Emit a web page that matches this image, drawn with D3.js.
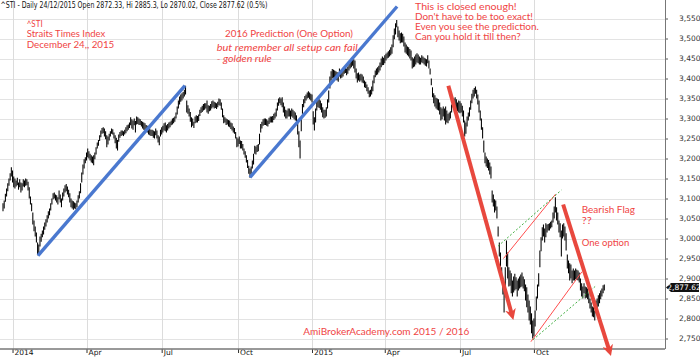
<!DOCTYPE html>
<html><head><meta charset="utf-8">
<script src="https://cdn.jsdelivr.net/npm/d3@7"></script>
<style>
html,body{margin:0;padding:0;background:#fff;}
svg{display:block;}
</style></head>
<body>
<svg id="chart" width="700" height="358"></svg>
<script>
// ---- data (STI daily bars) ----
const high = [
3088,3095,3112,3125,3138, 3150,3163,3178,3170,3155, 3150,3145,3152,3140,3148, 3140,3138,3148,3145,3150,
3148,3142,3128,3105,3088, 3065,3045,3030,3015,2990, 2985,3005,3012,3020,3030, 3040,3048,3058,3068,3075,
3088,3100,3113,3115,3110, 3108,3103,3120,3110,3100, 3115,3125,3133,3136,3130, 3122,3113,3100,3095,3093,
3090,3088,3095,3108,3118, 3138,3165,3185,3198,3203, 3215,3225,3218,3212,3208, 3205,3208,3215,3228,3240,
3246,3258,3270,3276,3278, 3275,3268,3258,3255,3262, 3268,3275,3273,3265,3258, 3252,3246,3260,3266,3270,
3270,3268,3272,3278,3283, 3285,3290,3303,3298,3295, 3300,3294,3305,3303,3300, 3298,3294,3292,3290,3288,
3284,3282,3278,3275,3272, 3272,3270,3268,3275,3270, 3258,3255,3272,3278,3282, 3288,3290,3283,3286,3290,
3292,3295,3300,3302,3305, 3315,3330,3345,3355,3360, 3363,3366,3372,3382,3345, 3333,3325,3316,3303,3300,
3292,3305,3308,3306,3310, 3322,3328,3332,3336,3338, 3338,3345,3333,3332,3336, 3343,3345,3342,3340,3338,
3342,3350,3348,3340,3325, 3308,3303,3300,3298,3296, 3295,3290,3288,3280,3276, 3266,3253,3250,3255,3245,
3244,3236,3225,3218,3208, 3196,3182,3175,3180,3195, 3212,3232,3230,3234,3236, 3262,3286,3292,3298,3300,
3300,3298,3295,3302,3305, 3305,3306,3312,3315,3325, 3340,3350,3353,3350,3353, 3340,3330,3322,3320,3325,
3325,3320,3325,3322,3318, 3315,3308,3290,3268,3245, 3300,3336,3348,3356,3360, 3365,3368,3365,3362,3360,
3318,3303,3325,3345,3350, 3348,3345,3338,3328,3322, 3322,3328,3348,3370,3405, 3418,3424,3422,3420,3418,
3416,3414,3425,3420,3422, 3425,3428,3432,3425,3430, 3436,3442,3446,3450,3448, 3445,3425,3413,3415,3410,
3412,3410,3405,3395,3392, 3385,3378,3370,3372,3380, 3395,3408,3420,3425,3428, 3432,3440,3450,3455,3452,
3458,3462,3465,3468,3472, 3478,3485,3508,3525,3538, 3546,3530,3520,3513,3515, 3512,3505,3490,3485,3480,
3478,3474,3470,3453,3450, 3455,3460,3463,3460,3455, 3452,3458,3455,3452,3450, 3448,3458,3445,3425,3400,
3378,3363,3358,3352,3350, 3348,3340,3328,3325,3330, 3325,3330,3320,3312,3315, 3318,3335,3345,3350,3353,
3348,3340,3345,3343,3338, 3332,3320,3295,3290,3305, 3315,3328,3345,3362,3372, 3376,3380,3372,3360,3345,
3320,3300,3278,3245,3215, 3205,3200,3196,3190,3180, 3120,3110,3098,3095,3080, 3030,2990,2965,2928,2900,
2880,2928,2995,2965,2928, 2920,2913,2895,2905,2912, 2903,2895,2900,2905,2910, 2915,2905,2898,2885,2878,
2860,2845,2830,2813,2795, 2800,2820,2855,2885,2913, 2970,3003,3028,3035,3025, 3038,3035,3036,3038,3042,
3045,3065,3080,3103,3078, 3065,3045,3038,3020,3035, 3038,3030,3013,2960,2945, 2938,2935,2920,2925,2920,
2925,2922,2920,2915,2900, 2888,2880,2888,2880,2878, 2875,2863,2850,2840,2830, 2828,2820,2845,2850,2858,
2863,2870,2875,2883,2885.3
];
const low = [
3068,3075,3092,3105,3118, 3132,3145,3155,3140,3128, 3125,3130,3133,3122,3128, 3115,3120,3130,3128,3132,
3133,3120,3100,3085,3068, 3035,3018,3005,2990,2958, 2962,2980,2992,3003,3010, 3022,3030,3040,3050,3058,
3070,3085,3098,3100,3095, 3090,3085,3098,3090,3078, 3095,3105,3115,3118,3110, 3103,3090,3078,3075,3072,
3075,3073,3078,3090,3100, 3113,3140,3160,3175,3188, 3195,3203,3200,3195,3190, 3188,3183,3198,3210,3225,
3232,3244,3253,3262,3263, 3255,3248,3228,3235,3245, 3255,3262,3260,3250,3238, 3225,3220,3242,3252,3256,
3258,3256,3260,3263,3268, 3272,3276,3283,3275,3272, 3283,3265,3285,3286,3284, 3284,3280,3275,3272,3270,
3268,3265,3260,3258,3256, 3256,3252,3250,3258,3250, 3240,3233,3255,3260,3265, 3270,3268,3265,3270,3275,
3278,3283,3285,3288,3292, 3300,3310,3325,3335,3342, 3345,3350,3355,3360,3315, 3312,3305,3292,3278,3282,
3276,3288,3290,3290,3294, 3306,3314,3316,3320,3322, 3325,3315,3312,3318,3320, 3325,3328,3325,3326,3324,
3328,3333,3332,3322,3303, 3288,3290,3284,3285,3280, 3278,3274,3270,3265,3262, 3250,3228,3230,3236,3225,
3225,3220,3210,3202,3190, 3176,3162,3152,3160,3175, 3185,3212,3210,3216,3218, 3235,3265,3275,3282,3284,
3284,3282,3280,3286,3290, 3290,3290,3296,3300,3305, 3320,3332,3338,3333,3328, 3315,3305,3300,3300,3305,
3305,3298,3305,3302,3298, 3295,3285,3260,3228,3200, 3268,3312,3328,3338,3345, 3350,3352,3348,3345,3340,
3285,3270,3290,3320,3328, 3326,3322,3315,3303,3300, 3302,3305,3325,3340,3375, 3395,3400,3402,3400,3396,
3395,3392,3405,3400,3402, 3405,3412,3414,3408,3412, 3420,3425,3428,3432,3425, 3415,3400,3390,3395,3392,
3395,3390,3388,3378,3376, 3368,3362,3353,3355,3360, 3368,3388,3403,3408,3410, 3415,3420,3428,3433,3434,
3438,3445,3450,3452,3455, 3458,3462,3478,3498,3510, 3528,3503,3495,3488,3490, 3490,3480,3465,3462,3458,
3455,3450,3445,3425,3428, 3430,3435,3440,3438,3435, 3435,3440,3438,3435,3432, 3430,3438,3425,3410,3383,
3353,3338,3330,3325,3322, 3320,3310,3295,3298,3305, 3295,3285,3290,3288,3295, 3300,3315,3328,3330,3325,
3322,3318,3315,3313,3315, 3305,3290,3255,3262,3280, 3295,3305,3322,3338,3350, 3355,3362,3350,3335,3315,
3295,3272,3250,3215,3188, 3180,3176,3170,3160,3150, 3090,3080,3065,3070,3050, 3005,2955,2930,2895,2860,
2815,2855,2930,2900,2880, 2882,2863,2855,2865,2870, 2873,2855,2870,2875,2878, 2880,2875,2868,2845,2828,
2815,2795,2785,2763,2750, 2755,2780,2820,2850,2880, 2928,2968,2995,3005,2990, 3003,3015,3020,3020,3025,
3028,3040,3050,3065,3045, 3035,3015,3003,2955,3000, 3005,2995,2970,2925,2913, 2895,2900,2888,2895,2895,
2898,2896,2895,2890,2870, 2855,2850,2863,2850,2852, 2848,2838,2825,2815,2805, 2803,2795,2813,2820,2830,
2838,2848,2855,2863,2870.02
];
const lastClose = 2877.62;
const xTickIndex = [8, 70, 133, 197, 259, 320, 383, 445];
const xTickLabels = ["2014", "Apr", "Jul", "Oct", "2015", "Apr", "Jul", "Oct"];
const yTicks = [2750,2800,2850,2900,2950,3000,3050,3100,3150,3200,3250,3300,3350,3400,3450,3500,3550];
const titleText = "^STI - Daily 24/12/2015 Open 2872.33, Hi 2885.3, Lo 2870.02, Close 2877.62 (0.5%)";

// trend lines & annotations expressed in (bar index, value)
const blueLines = [
  [[29.3, 2957], [152.5, 3382]],
  [[207, 3153], [330.3, 3580]]
];
const redArrows = [
  [[373.3, 3382], [426.8, 2807]],
  [[469.5, 3085], [508.5, 2717]]
];
const redThin = [
  [[419.5, 2950], [463.2, 3111]],
  [[442.5, 2742], [485.3, 2917]]
];
const greenDotted = [
  [[415, 2981], [468, 3121]],
  [[444.3, 2747], [496.3, 2880]]
];

// ---- drawing ----
const svg = d3.select("#chart");
const W = 700, H = 358;
const axisX = 665, axisY = 349;
const x = d3.scaleLinear().domain([0, high.length - 1]).range([3, 604.3]);
const y = d3.scaleLinear().domain([2750, 3550]).range([338.5, 18.5]);

// grid
const grid = svg.append("g");
grid.selectAll("line.h").data(yTicks).join("line")
  .attr("x1", 0).attr("x2", axisX)
  .attr("y1", d => Math.round(y(d)) + 0.5).attr("y2", d => Math.round(y(d)) + 0.5)
  .attr("stroke", "#e3e3e3").attr("stroke-width", 1);
grid.selectAll("line.v").data(xTickIndex).join("line")
  .attr("x1", d => Math.round(x(d)) + 0.5).attr("x2", d => Math.round(x(d)) + 0.5)
  .attr("y1", 0).attr("y2", axisY)
  .attr("stroke", "#dcdcdc").attr("stroke-width", 1);

// bars
const bars = svg.append("g");
bars.selectAll("line").data(high.map((h, i) => ({i, h, l: low[i]}))).join("line")
  .attr("x1", d => x(d.i)).attr("x2", d => x(d.i))
  .attr("y1", d => y(d.h)).attr("y2", d => y(d.l))
  .attr("stroke", "#000").attr("stroke-width", 1.05);

// axes
const yAxis = d3.axisRight(y).tickValues(yTicks).tickSize(3).tickPadding(11)
  .tickFormat(d3.format(","));
const gy = svg.append("g").attr("transform", `translate(${axisX},0)`).call(yAxis);
gy.select(".domain").remove();
gy.selectAll(".tick line").attr("stroke", "#555");
gy.selectAll(".tick text").attr("fill", "#333").style("font", "7.5px 'DejaVu Sans', sans-serif");

svg.append("line").attr("x1", axisX + 0.5).attr("x2", axisX + 0.5).attr("y1", 0).attr("y2", axisY)
  .attr("stroke", "#777").attr("stroke-width", 1);

const xAxis = d3.axisBottom(x).tickValues(xTickIndex).tickSize(4)
  .tickFormat((d, i) => xTickLabels[i]);
const gx = svg.append("g").attr("transform", `translate(0,${axisY})`).call(xAxis);
gx.select(".domain").remove();
gx.selectAll(".tick line").attr("stroke", "#333");
gx.selectAll(".tick text").attr("fill", "#111").attr("text-anchor", "start")
  .attr("x", 1.5).attr("y", 1).attr("dy", "0.71em")
  .style("font", "7.5px 'DejaVu Sans', sans-serif");
svg.append("line").attr("x1", 0).attr("x2", axisX).attr("y1", axisY).attr("y2", axisY)
  .attr("stroke", "#777").attr("stroke-width", 1.6);

// trend lines
const lineGen = d3.line().x(d => x(d[0])).y(d => y(d[1]));
svg.append("g").selectAll("path").data(blueLines).join("path")
  .attr("d", lineGen).attr("stroke", "#4a78cf").attr("stroke-width", 3.4)
  .attr("fill", "none").attr("stroke-linecap", "butt");

svg.append("g").selectAll("path").data(redThin).join("path")
  .attr("d", lineGen).attr("stroke", "#ff4d4d").attr("stroke-width", 1).attr("fill", "none");
svg.append("g").selectAll("path").data(greenDotted).join("path")
  .attr("d", lineGen).attr("stroke", "#3fae3f").attr("stroke-width", 1)
  .attr("stroke-dasharray", "2,2").attr("fill", "none");

// red arrows
const defs = svg.append("defs");
defs.append("marker").attr("id", "ah").attr("viewBox", "0 0 10 10")
  .attr("refX", 6).attr("refY", 5).attr("markerWidth", 11).attr("markerHeight", 11)
  .attr("markerUnits", "userSpaceOnUse").attr("orient", "auto")
  .append("path").attr("d", "M0,0 L10,5 L0,10 L3,5 z").attr("fill", "#e8483e");
svg.append("g").selectAll("path").data(redArrows).join("path")
  .attr("d", lineGen).attr("stroke", "#e8483e").attr("stroke-width", 4)
  .attr("fill", "none").attr("marker-end", "url(#ah)");

// close price marker
const cy = y(lastClose);
svg.append("path")
  .attr("d", `M${axisX + 1},${cy} L${axisX + 6},${cy - 4.5} L${W - 1},${cy - 4.5} L${W - 1},${cy + 4.5} L${axisX + 6},${cy + 4.5} Z`)
  .attr("fill", "#111");
svg.append("text").attr("x", axisX + 19).attr("y", cy + 2.8).attr("text-anchor", "middle")
  .attr("fill", "#fff").style("font", "7.5px 'DejaVu Sans', sans-serif").text(d3.format(",.2f")(lastClose));

// title
svg.append("text").attr("x", 0.5).attr("y", 8.3).attr("fill", "#111")
  .attr("textLength", 267).attr("lengthAdjust", "spacingAndGlyphs")
  .style("font", "8px 'DejaVu Sans', sans-serif").text(titleText);

// annotations
const red = "#f04545";
const notes = [
  {t: "^STI", x: 26.7, y: 26.5, w: 16, s: 9.5},
  {t: "Straits Times Index", x: 26.7, y: 37, w: 78.6, s: 9.5},
  {t: "December 24,, 2015", x: 26.7, y: 47.7, w: 87.6, s: 9.5},
  {t: "2016 Prediction (One Option)", x: 225, y: 37.2, w: 128, s: 10},
  {t: "but remember all setup can fail", x: 216.7, y: 50.5, w: 141, it: true, s: 10},
  {t: "- golden rule", x: 216.7, y: 61.7, w: 55, it: true, s: 10},
  {t: "This is closed enough!", x: 415, y: 10.3, w: 101.7, s: 9},
  {t: "Don't have to be too exact!", x: 415, y: 20.2, w: 118, s: 9},
  {t: "Even you see the prediction.", x: 415, y: 30.1, w: 124, s: 9},
  {t: "Can you hold it till then?", x: 415, y: 39.8, w: 105.7, s: 9},
  {t: "Bearish Flag", x: 581.7, y: 212.8, w: 53.3, s: 9},
  {t: "??", x: 581.7, y: 223.5, w: 10, s: 9},
  {t: "One option", x: 581.7, y: 245.5, w: 47.6, s: 10},
  {t: "AmiBrokerAcademy.com 2015 / 2016", x: 303.3, y: 334.8, w: 166, s: 10}
];
svg.append("g").selectAll("text").data(notes).join("text")
  .attr("x", d => d.x).attr("y", d => d.y)
  .attr("textLength", d => d.w).attr("lengthAdjust", "spacingAndGlyphs")
  .attr("fill", red)
  .style("font-family", "Lato, 'Open Sans', sans-serif")
  .style("font-size", d => d.s + "px")
  .style("font-style", d => d.it ? "italic" : "normal")
  .text(d => d.t);
</script>
</body></html>
